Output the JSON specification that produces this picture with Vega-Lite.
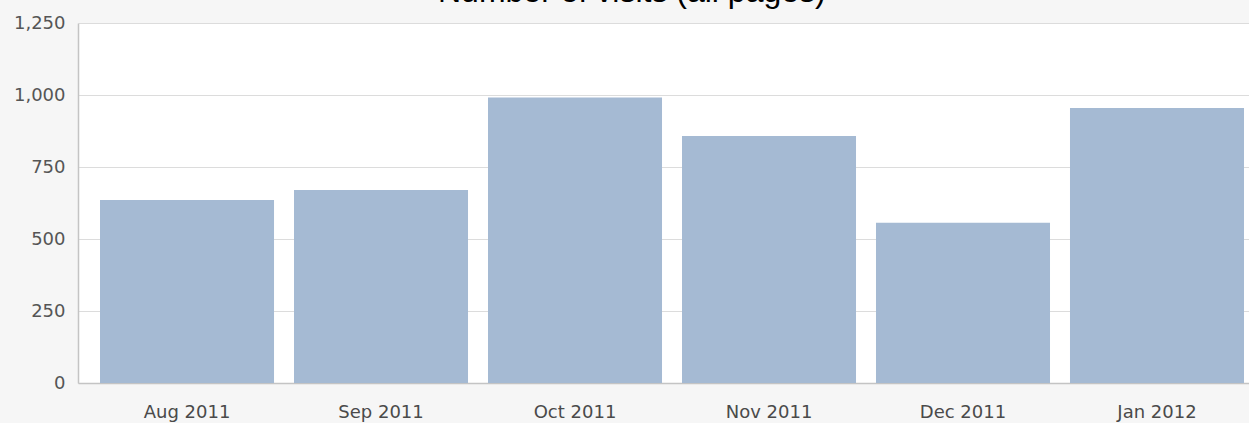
{
  "$schema": "https://vega.github.io/schema/vega-lite/v6.json",
  "width": 1171,
  "height": 360,
  "autosize": {"type": "none"},
  "padding": {"left": 78, "top": 23, "right": 0, "bottom": 40},
  "background": "#f6f6f6",
  "title": {
    "text": "Number of visits (all pages)",
    "font": "Liberation Sans",
    "fontSize": 32,
    "fontWeight": "normal",
    "color": "#000000",
    "anchor": "start",
    "frame": "group",
    "dx": 360,
    "dy": 20,
    "baseline": "alphabetic",
    "offset": 0
  },
  "data": {
    "values": [
      {"month": "Aug 2011", "visits": 635},
      {"month": "Sep 2011", "visits": 670},
      {"month": "Oct 2011", "visits": 991},
      {"month": "Nov 2011", "visits": 858},
      {"month": "Dec 2011", "visits": 556},
      {"month": "Jan 2012", "visits": 955}
    ]
  },
  "mark": {"type": "bar", "color": "#a5bad3"},
  "encoding": {
    "x": {
      "field": "month",
      "type": "ordinal",
      "sort": null,
      "scale": {"paddingInner": 0.103, "paddingOuter": 0.0696, "align": 0.815},
      "axis": {
        "title": null,
        "labelAngle": 0,
        "ticks": false,
        "labelPadding": 20,
        "labelFont": "DejaVu Sans",
        "labelFontSize": 18,
        "labelColor": "#4a4a4a",
        "domainColor": "#c4c4c4",
        "domainWidth": 1.5
      }
    },
    "y": {
      "field": "visits",
      "type": "quantitative",
      "scale": {"domain": [0, 1250], "nice": false},
      "axis": {
        "title": null,
        "values": [0, 250, 500, 750, 1000, 1250],
        "format": ",d",
        "ticks": false,
        "labelPadding": 13,
        "labelFont": "DejaVu Sans",
        "labelFontSize": 18,
        "labelColor": "#555555",
        "domainColor": "#c4c4c4",
        "domainWidth": 1.5,
        "gridColor": "#dcdcdc",
        "gridWidth": 1.2
      }
    }
  },
  "config": {"view": {"fill": "#ffffff", "stroke": null}}
}
